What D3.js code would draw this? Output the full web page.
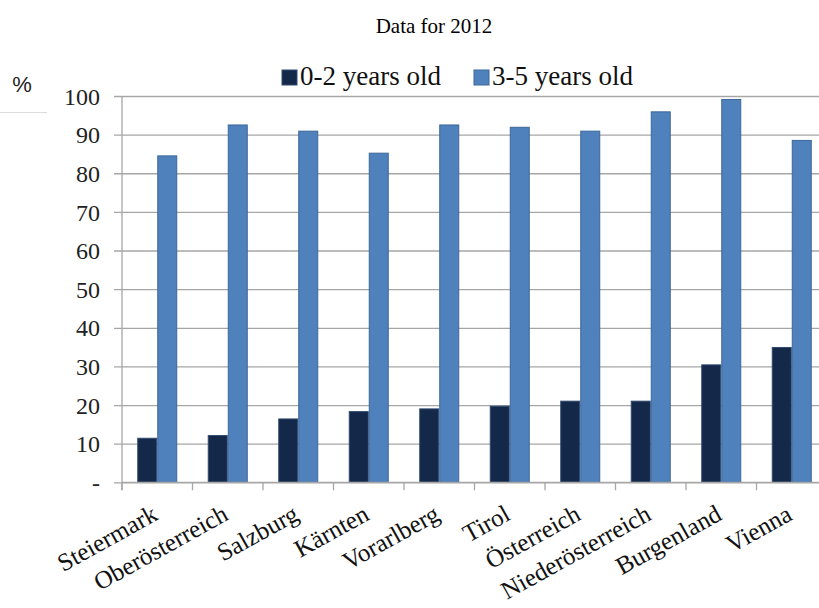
<!DOCTYPE html>
<html>
<head>
<meta charset="utf-8">
<script src="https://cdn.jsdelivr.net/npm/d3@7"></script>
<style>
  html, body { margin: 0; padding: 0; background: #fff; }
  svg { display: block; }
</style>
</head>
<body>
<svg id="chart" width="819" height="608"></svg>
<script>
const categories = ["Steiermark", "Oberösterreich", "Salzburg", "Kärnten", "Vorarlberg", "Tirol", "Österreich", "Niederösterreich", "Burgenland", "Vienna"];
const seriesNames = ["0-2 years old", "3-5 years old"];
const values02 = [11.4, 12.1, 16.4, 18.3, 19.0, 19.7, 21.0, 21.0, 30.4, 34.9];
const values35 = [84.5, 92.5, 90.9, 85.2, 92.5, 91.9, 90.9, 95.9, 99.1, 88.5];
const yTicks = [0, 10, 20, 30, 40, 50, 60, 70, 80, 90, 100];
const titleText = "Data for 2012";
const unitText = "%";

const colors = ["#14284a", "#4f81bd"];
const strokes = ["#2f4a70", "#3d6799"];
const serif = "'Liberation Serif', 'Times New Roman', serif";

const svg = d3.select("#chart");
const W = 819;

const pLeft = 122, pRight = 827, pTop = 96, pBottom = 482.3;

const x = d3.scaleBand().domain(categories).range([pLeft, pRight]).padding(0);
const xs = d3.scaleBand().domain(seriesNames).range([0, x.bandwidth()]).paddingInner(0).paddingOuter(0.7625);
const y = d3.scaleLinear().domain([0, 100]).range([pBottom, pTop]);

// title
svg.append("text")
  .attr("x", 434).attr("y", 33)
  .attr("text-anchor", "middle")
  .style("font-family", serif).style("font-size", "21px").attr("fill", "#000")
  .text(titleText);

// % unit
svg.append("text")
  .attr("x", 22).attr("y", 92)
  .attr("text-anchor", "middle")
  .style("font-family", "'Liberation Sans', Arial, sans-serif").style("font-size", "22px").attr("fill", "#222")
  .text(unitText);
svg.append("line")
  .attr("x1", 0).attr("x2", 47).attr("y1", 112.5).attr("y2", 112.5)
  .attr("stroke", "#dcdcdc").attr("stroke-width", 1);

// gridlines + y ticks
const yAxis = d3.axisLeft(y).tickValues(yTicks)
  .tickSize(-(W - pLeft)).tickPadding(0)
  .tickFormat(d => d === 0 ? "-" : d);
const gy = svg.append("g").attr("transform", `translate(${pLeft},0)`).call(yAxis);
gy.attr("font-family", null);
gy.select(".domain").remove();
gy.selectAll(".tick line")
  .attr("x1", -8)
  .attr("stroke", "#a6a6a6").attr("stroke-width", 1.3);
gy.selectAll(".tick text")
  .attr("x", -22).attr("dy", "0.34em")
  .style("font-family", serif).style("font-size", "24px").attr("fill", "#222");

// bars
const data = categories.map((c, i) => ({ c, vals: [values02[i], values35[i]] }));
const groups = svg.append("g").selectAll("g").data(data).join("g")
  .attr("transform", d => `translate(${x(d.c)},0)`);
groups.selectAll("rect")
  .data(d => d.vals.map((v, j) => ({ s: seriesNames[j], v, j })))
  .join("rect")
  .attr("x", d => xs(d.s) + 0.5)
  .attr("width", xs.bandwidth() - 1)
  .attr("y", d => y(d.v))
  .attr("height", d => y(0) - y(d.v))
  .attr("fill", d => colors[d.j])
  .attr("stroke", d => strokes[d.j])
  .attr("stroke-width", 1);

// y axis line
svg.append("line")
  .attr("x1", pLeft).attr("x2", pLeft).attr("y1", pTop).attr("y2", pBottom + 8)
  .attr("stroke", "#a6a6a6").attr("stroke-width", 1.3);

// x axis line and boundary ticks
svg.append("line")
  .attr("x1", pLeft).attr("x2", W).attr("y1", pBottom).attr("y2", pBottom)
  .attr("stroke", "#a6a6a6").attr("stroke-width", 1.3);
const bounds = categories.map(c => x(c)).concat([x(categories[categories.length - 1]) + x.bandwidth()]);
svg.append("g").selectAll("line").data(bounds).join("line")
  .attr("x1", d => d).attr("x2", d => d)
  .attr("y1", pBottom).attr("y2", pBottom + 8)
  .attr("stroke", "#a6a6a6").attr("stroke-width", 1.3);

// x labels
svg.append("g").selectAll("text").data(categories).join("text")
  .attr("transform", d => `translate(${x(d) + x.bandwidth() / 2 + 2},${519}) rotate(-29)`)
  .attr("text-anchor", "end")
  .style("font-family", serif).style("font-size", "25px").attr("fill", "#111")
  .text(d => d);

// legend
const legendX = [282, 474];
const legend = svg.append("g").selectAll("g").data(seriesNames).join("g")
  .attr("transform", (d, i) => `translate(${legendX[i]},70)`);
legend.append("rect")
  .attr("width", 15).attr("height", 15)
  .attr("fill", (d, i) => colors[i]).attr("stroke", (d, i) => strokes[i]).attr("stroke-width", 1);
legend.append("text")
  .attr("x", 18).attr("y", 15)
  .style("font-family", serif).style("font-size", "27px").attr("fill", "#111")
  .text(d => d);
</script>
</body>
</html>
